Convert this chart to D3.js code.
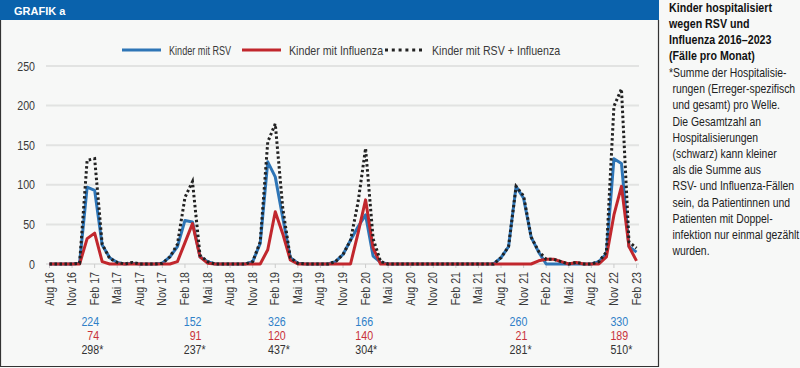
<!DOCTYPE html>
<html>
<head>
<meta charset="utf-8">
<script src="https://cdn.jsdelivr.net/npm/d3@7"></script>
<style>
  body { margin: 0; background: #f7f8f7; }
  svg { display: block; font-family: "Liberation Sans", Arial, sans-serif; }
</style>
</head>
<body>
<div id="chart"></div>
<script>
// months Aug 16 .. Feb 23
const monthNames = ["Jan", "Feb", "Mär", "Apr", "Mai", "Jun", "Jul", "Aug", "Sep", "Okt", "Nov", "Dez"];
const months = d3.range(79).map(i => {
  const m = (7 + i) % 12, y = 16 + Math.floor((7 + i) / 12);
  return monthNames[m] + " " + y;
});

const rsv = [0,0,0,0,1,97,93,24,8,2, 0,1,0,0,0,1,9,22,55,53, 9,3,0,0,0,0,0,3,26,129,
  110,58,8,1,0,0,0,0,3,12, 30,47,62,10,2,0,0,0,0,0, 0,0,0,0,0,0,0,0,0,0,
  8,22,98,83,34,15,0,0,0,0, 0,0,0,3,13,133,127,22,15];
const flu = [0,0,0,0,0,32,39,3,0,0, 0,0,0,0,0,0,0,3,27,51, 9,1,0,0,0,0,0,0,0,18,
  66,38,5,0,0,0,0,0,0,0, 0,39,81,20,0,0,0,0,0,0, 0,0,0,0,0,0,0,0,0,0,
  0,0,0,0,0,4,6,6,3,0, 2,0,0,0,9,62,98,22,4];
const total = [0,0,0,0,1,131,133,25,7,2, 0,2,0,0,0,1,9,25,84,104, 11,3,0,0,0,0,0,3,28,154,
  177,70,8,1,0,0,0,0,3,12, 30,78,146,32,3,0,0,0,0,0, 0,0,0,0,0,0,0,0,0,0,
  8,22,98,86,34,16,6,6,3,0, 2,0,0,3,15,199,221,28,20];

const yTicks = [0, 50, 100, 150, 200, 250];

// per-wave sums, anchored at a month position
const waveAt = [6.6, 20.2, 31.4, 43.0, 63.5, 76.9];
const waveRsv = [224, 152, 326, 166, 260, 330];
const waveFlu = [74, 91, 120, 140, 21, 189];
const waveTotal = [298, 237, 437, 304, 281, 510];

const titleLines = ["Kinder hospitalisiert", "wegen RSV und", "Influenza 2016–2023", "(Fälle pro Monat)"];
const noteLines = ["*Summe der Hospitalisie-", "rungen (Erreger-spezifisch", "und gesamt) pro Welle.",
  "Die Gesamtzahl an", "Hospitalisierungen", "(schwarz) kann kleiner", "als die Summe aus",
  "RSV- und Influenza-Fällen", "sein, da Patientinnen und", "Patienten mit Doppel-",
  "infektion nur einmal gezählt", "wurden."];

const colors = { rsv: "#2e75b6", flu: "#c1272d", total: "#222", grid: "#e2e3e2", text: "#3a3a3a" };
const narrow = 0.82; // no condensed font installed, squeeze Liberation Sans instead

const svg = d3.select("#chart").append("svg")
  .attr("width", 800)
  .attr("height", 368);

svg.append("rect").attr("width", 800).attr("height", 368).attr("fill", "#f7f8f7");

// header bar + frame
svg.append("rect").attr("x", 0).attr("y", 0).attr("width", 659).attr("height", 20).attr("fill", "#0a62ac");
svg.append("text").attr("x", 14).attr("y", 15)
  .attr("font-size", 11).attr("font-weight", "bold").attr("fill", "#fff")
  .text("GRAFIK a");
svg.append("path").attr("d", "M0.5,20V366.5H658.5V20")
  .attr("fill", "none").attr("stroke", "#333").attr("stroke-width", 1.2);

const x = d3.scaleLinear().domain([0, 78]).range([49.5, 636.5]);
const y = d3.scaleLinear().domain([0, 250]).range([264, 66]);

// grid
svg.append("g").selectAll("line")
  .data(yTicks)
  .join("line")
  .attr("x1", 46).attr("x2", 639)
  .attr("y1", d => y(d)).attr("y2", d => y(d))
  .attr("stroke", colors.grid).attr("stroke-width", 2);

svg.append("g").selectAll("text")
  .data(yTicks)
  .join("text")
  .attr("transform", d => `translate(35,${y(d) + 4.5}) scale(${narrow},1)`)
  .attr("text-anchor", "end")
  .attr("font-size", 13).attr("fill", colors.text)
  .text(d => d);

// x axis: every third month
const xTicks = d3.range(0, 79, 3);
svg.append("g").selectAll("line")
  .data(xTicks)
  .join("line")
  .attr("x1", d => x(d)).attr("x2", d => x(d))
  .attr("y1", 264).attr("y2", 268)
  .attr("stroke", "#ccc").attr("stroke-width", 1);

svg.append("g").selectAll("text")
  .data(xTicks)
  .join("text")
  .attr("transform", d => `translate(${x(d) + 4},272) rotate(-90) scale(${narrow},1)`)
  .attr("text-anchor", "end")
  .attr("font-size", 13).attr("fill", colors.text)
  .text(d => months[d]);

// lines
const line = d3.line().x((d, i) => x(i)).y(d => y(d));
svg.append("path").datum(rsv).attr("d", line)
  .attr("fill", "none").attr("stroke", colors.rsv).attr("stroke-width", 3).attr("stroke-linejoin", "round");
svg.append("path").datum(flu).attr("d", line)
  .attr("fill", "none").attr("stroke", colors.flu).attr("stroke-width", 3).attr("stroke-linejoin", "round");
svg.append("path").datum(total).attr("d", line)
  .attr("fill", "none").attr("stroke", colors.total).attr("stroke-width", 3)
  .attr("stroke-dasharray", "2.5,2.5");

// legend
const legend = [
  { label: "Kinder mit RSV", color: colors.rsv, x0: 122, dash: null, sx: 0.7 },
  { label: "Kinder mit Influenza", color: colors.flu, x0: 242, dash: null, sx: narrow },
  { label: "Kinder mit RSV + Influenza", color: colors.total, x0: 385, dash: "3,3.8", sx: narrow }
];
const lg = svg.append("g").selectAll("g").data(legend).join("g");
lg.append("line")
  .attr("x1", d => d.x0).attr("x2", d => d.x0 + 39)
  .attr("y1", 50).attr("y2", 50)
  .attr("stroke", d => d.color).attr("stroke-width", 3)
  .attr("stroke-dasharray", d => d.dash);
lg.append("text")
  .attr("transform", d => `translate(${d.x0 + 47},54.5) scale(${d.sx},1)`)
  .attr("font-size", 13).attr("fill", colors.text)
  .text(d => d.label);

// wave sums
const waves = svg.append("g").selectAll("g").data(waveAt).join("g")
  .attr("transform", d => `translate(${x(d)},0) scale(${narrow},1)`);
waves.append("text").attr("y", 326)
  .attr("text-anchor", "end").attr("font-size", 13).attr("fill", "#2f80c8")
  .text((d, i) => waveRsv[i]);
waves.append("text").attr("y", 340)
  .attr("text-anchor", "end").attr("font-size", 13).attr("fill", "#c8323a")
  .text((d, i) => waveFlu[i]);
waves.append("text").attr("y", 354)
  .attr("text-anchor", "end").attr("font-size", 13).attr("fill", "#333")
  .text((d, i) => waveTotal[i]);
waves.append("text").attr("y", 354)
  .attr("font-size", 13).attr("fill", "#333")
  .text("*");

// side text
svg.append("g").selectAll("text")
  .data(titleLines)
  .join("text")
  .attr("transform", (d, i) => `translate(669,${12 + i * 16}) scale(${narrow},1)`)
  .attr("font-size", 13).attr("font-weight", "bold").attr("fill", "#111")
  .text(d => d);

svg.append("g").selectAll("text")
  .data(noteLines)
  .join("text")
  .attr("transform", (d, i) => `translate(${i === 0 ? 669 : 672.5},${77 + i * 16.2}) scale(${narrow},1)`)
  .attr("font-size", 12.7).attr("fill", "#222")
  .text(d => d);
</script>
</body>
</html>
